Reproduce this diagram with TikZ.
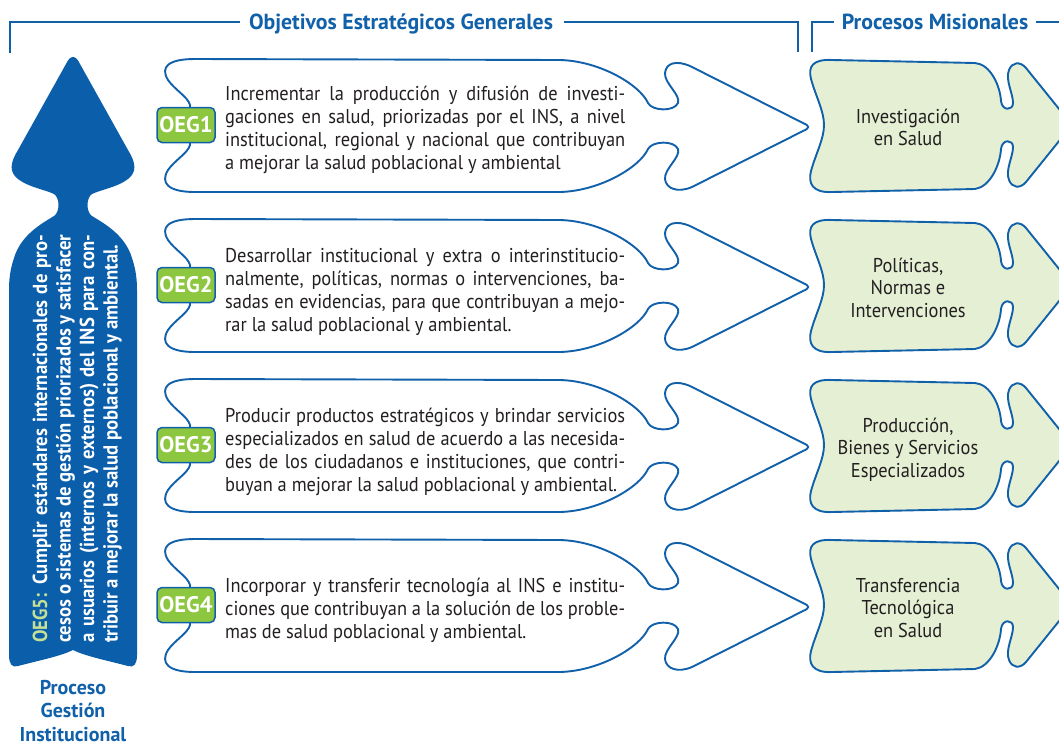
\documentclass[tikz,border=0pt]{standalone}
\usepackage{fontspec}
\setmainfont{PT Sans}[FakeStretch=0.92]
\newfontfamily\hdrfont{PT Sans}
\definecolor{mainblue}{RGB}{16,96,170}
\definecolor{fillblue}{RGB}{11,94,170}
\definecolor{badgegreen}{RGB}{141,198,63}
\definecolor{lightgreen}{RGB}{196,224,150}
\definecolor{procfill}{RGB}{228,239,212}
\definecolor{txt}{RGB}{35,31,32}
\newcommand{\jl}[1]{\makebox[400pt][s]{#1}\\}
\newcommand{\vjl}[1]{\makebox[408pt][s]{#1}\\}
\tikzset{
  hdrline/.style={draw=mainblue, line width=2.8pt},
  hdrtext/.style={text=mainblue, font=\hdrfont\fontsize{21.8}{24}\selectfont\bfseries, inner sep=0pt},
  scroll/.style={draw=mainblue, line width=1.9pt, fill=white, line join=round},
  procbox/.style={draw=mainblue, line width=1.9pt, fill=procfill, line join=round},
  badge/.style={draw=mainblue, line width=1.5pt, fill=badgegreen, rounded corners=5pt,
    minimum width=58pt, minimum height=35pt, inner sep=0pt, text=white,
    font=\hdrfont\fontsize{22.5}{22.5}\selectfont\bfseries},
  bodytext/.style={anchor=base west, inner sep=0pt, text=txt,
    font=\fontsize{20}{23.2}\selectfont},
  proctext/.style={anchor=base, inner sep=0pt, text=txt,
    font=\fontsize{20}{22.5}\selectfont},
  pics/oeg/.style={code={
    \draw[scroll] (195,-66) -- (560,-65)
      .. controls (600,-64) and (640,-40) .. (648,-22)
      .. controls (652,-14) and (674,-13) .. (678,-22)
      .. controls (681,-30) and (664,-42) .. (665,-52)
      .. controls (666,-62) and (676,-65) .. (690,-59)
      -- (803,-2)
      .. controls (810,1) and (810,3) .. (803,6)
      -- (692,62)
      .. controls (678,68) and (666,64) .. (665,54)
      .. controls (664,44) and (681,32) .. (678,24)
      .. controls (674,15) and (652,16) .. (648,24)
      .. controls (640,42) and (600,66) .. (560,67)
      -- (195,67)
      .. controls (168,67) and (160,58) .. (168,45)
      .. controls (175,35) and (188,28) .. (190,20)
      -- (190,-20)
      .. controls (188,-28) and (175,-35) .. (168,-45)
      .. controls (160,-58) and (168,-66) .. (195,-66) -- cycle;
  }},
  pics/proc/.style={code={
    \draw[procbox] (832,-65) -- (975,-62)
      .. controls (990,-61) and (1000,-40) .. (1001,-24)
      .. controls (1002,-14) and (1013,-14) .. (1013,-22)
      .. controls (1013,-32) and (1005,-45) .. (1009,-55)
      .. controls (1012,-63) and (1020,-64) .. (1026,-57)
      -- (1072,0) -- (1026,57)
      .. controls (1020,64) and (1012,63) .. (1009,55)
      .. controls (1005,45) and (1013,32) .. (1013,22)
      .. controls (1013,14) and (1002,14) .. (1001,24)
      .. controls (1000,40) and (990,62) .. (975,64)
      -- (832,67)
      .. controls (812,68) and (808,58) .. (811,46)
      .. controls (816,28) and (824,14) .. (824,0)
      .. controls (824,-14) and (816,-28) .. (811,-46)
      .. controls (808,-58) and (812,-66) .. (832,-65) -- cycle;
  }}
}
\begin{document}
\begin{tikzpicture}[x=1pt,y=-1pt]
\useasboundingbox (0,0) rectangle (1059,745);
\fill[white] (0,0) rectangle (1059,745);

% headers
\node[hdrtext, anchor=base] (h1) at (401,29) {Objetivos Estratégicos Generales};
\node[hdrtext, anchor=base] (h2) at (935,29) {Procesos Misionales};
\coordinate (h1l) at (10,53);
\coordinate (h1r) at (798,52);
\coordinate (h2l) at (812,52);
\coordinate (h2r) at (1059,22);
\draw[hdrline] (h1l) |- ([xshift=-9pt]h1.west |- 0,22);
\draw[hdrline] ([xshift=11pt]h1.east |- 0,22) -| (h1r);
\draw[hdrline] (h2l) |- ([xshift=-8pt]h2.west |- 0,22);
\draw[hdrline] ([xshift=8pt]h2.east |- 0,22) -- (h2r);

% left big arrow (OEG5)
\fill[fillblue] (73,57) .. controls (76,57) and (78,60) .. (80,64)
  -- (128,150) .. controls (136,163) and (137,172) .. (128,179)
  .. controls (118,187) and (100,190) .. (92,194)
  .. controls (86,198) and (86,212) .. (92,216)
  .. controls (105,224) and (125,235) .. (132,258)
  .. controls (136,270) and (137,280) .. (137,290)
  -- (137,655) .. controls (137,664) and (134,668) .. (128,666)
  .. controls (105,660) and (85,656) .. (73,650)
  .. controls (61,656) and (41,660) .. (18,666)
  .. controls (12,668) and (9,664) .. (9,655)
  -- (9,290) .. controls (9,280) and (10,270) .. (14,258)
  .. controls (21,235) and (41,224) .. (54,216)
  .. controls (60,212) and (60,198) .. (54,194)
  .. controls (46,190) and (28,187) .. (18,179)
  .. controls (9,172) and (10,163) .. (18,150)
  -- (66,64) .. controls (68,60) and (70,57) .. (73,57) -- cycle;

\node[rotate=90, anchor=base west, inner sep=0pt, text=white,
  font=\fontsize{20.3}{23.5}\selectfont\bfseries] (oeg5) at (47,643)
  {\parbox[t]{408pt}{%
  \vjl{\textcolor{lightgreen}{OEG5:} Cumplir estándares internacionales de pro-}
  \vjl{cesos o sistemas de gestión priorizados y satisfacer}
  \vjl{a usuarios (internos y externos) del INS para con-}
  tribuir a mejorar la salud poblacional y ambiental.}};

\node[anchor=base, inner sep=0pt, text=mainblue, font=\hdrfont\fontsize{20}{23.5}\selectfont\bfseries]
  (pgi) at (73,694) {\parbox[t]{150pt}{\centering Proceso\\Gestión\\Institucional}};

% rows
\pic at (0,125) {oeg};
\pic at (0,285) {oeg};
\pic at (0,445) {oeg};
\pic at (0,605) {oeg};
\pic at (0,125) {proc};
\pic at (0,285) {proc};
\pic at (0,445) {proc};
\pic at (0,605) {proc};

\node[badge] (b1) at (186,125) {OEG1};
\node[badge] (b2) at (186,285) {OEG2};
\node[badge] (b3) at (186,445) {OEG3};
\node[badge] (b4) at (186,605) {OEG4};

\node[bodytext] (t1) at (225,100) {\parbox[t]{400pt}{%
  \jl{Incrementar la producción y difusión de investi-}
  \jl{gaciones en salud, priorizadas por el INS, a nivel}
  \jl{institucional, regional y nacional que contribuyan}
  a mejorar la salud poblacional y ambiental}};
\node[bodytext] (t2) at (225,262) {\parbox[t]{400pt}{%
  \jl{Desarrollar institucional y extra o interinstitucio-}
  \jl{nalmente, políticas, normas o intervenciones, ba-}
  \jl{sadas en evidencias, para que contribuyan a mejo-}
  rar la salud poblacional y ambiental.}};
\node[bodytext] (t3) at (225,422) {\parbox[t]{400pt}{%
  \jl{Producir productos estratégicos y brindar servicios}
  \jl{especializados en salud de acuerdo a las necesida-}
  \jl{des de los ciudadanos e instituciones, que contri-}
  buyan a mejorar la salud poblacional y ambiental.}};
\node[bodytext] (t4) at (225,592) {\parbox[t]{400pt}{%
  \jl{Incorporar y transferir tecnología al INS e institu-}
  \jl{ciones que contribuyan a la solución de los proble-}
  mas de salud poblacional y ambiental.}};

\node[proctext] (p1) at (908,123) {\parbox[t]{180pt}{\centering Investigación\\en Salud}};
\node[proctext] (p2) at (908,272) {\parbox[t]{180pt}{\centering Políticas,\\Normas e\\Intervenciones}};
\node[proctext] (p3) at (908,432) {\parbox[t]{180pt}{\centering Producción,\\Bienes y Servicios\\Especializados}};
\node[proctext] (p4) at (908,592) {\parbox[t]{180pt}{\centering Transferencia\\Tecnológica\\en Salud}};
\end{tikzpicture}
\end{document}
